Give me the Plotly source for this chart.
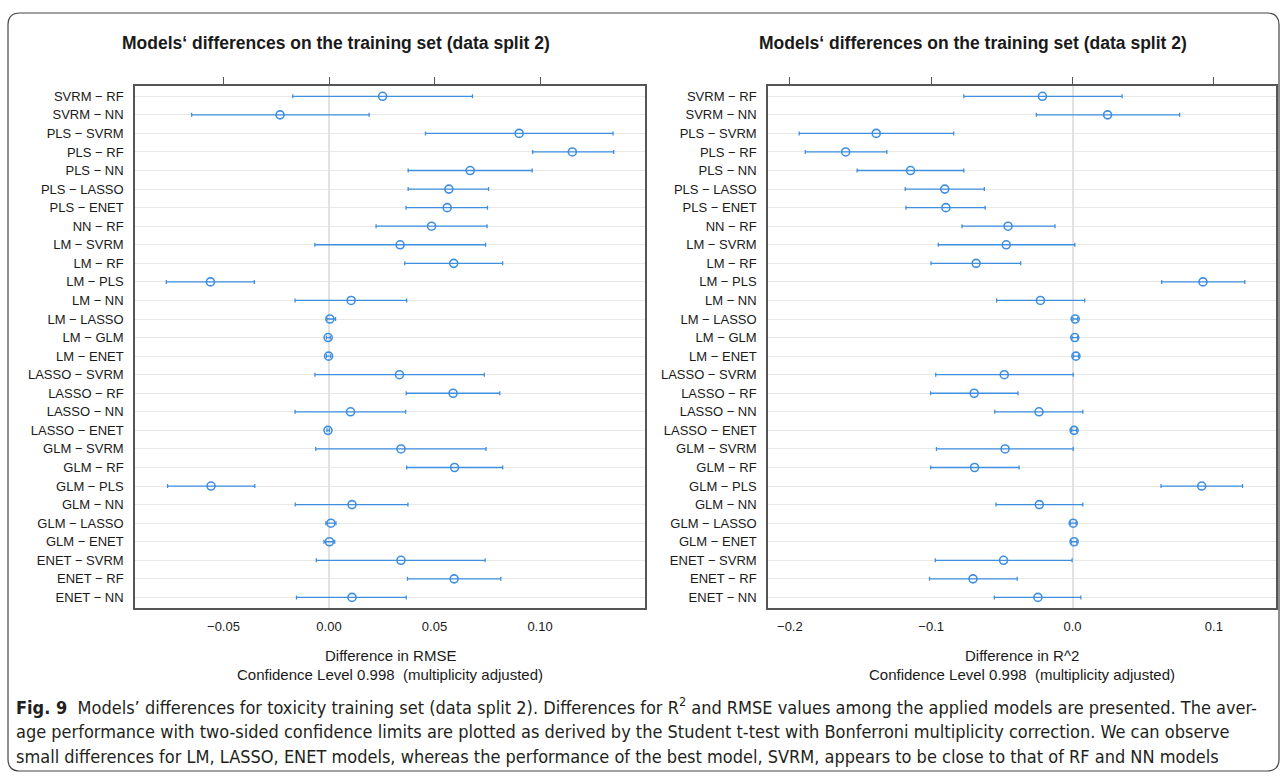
import numpy as np
import plotly.graph_objects as go

# ---------------- data ----------------
labels = ["SVRM − RF", "SVRM − NN", "PLS − SVRM", "PLS − RF", "PLS − NN", "PLS − LASSO",
          "PLS − ENET", "NN − RF", "LM − SVRM", "LM − RF", "LM − PLS", "LM − NN",
          "LM − LASSO", "LM − GLM", "LM − ENET", "LASSO − SVRM", "LASSO − RF", "LASSO − NN",
          "LASSO − ENET", "GLM − SVRM", "GLM − RF", "GLM − PLS", "GLM − NN", "GLM − LASSO",
          "GLM − ENET", "ENET − SVRM", "ENET − RF", "ENET − NN"]

rmse_est = [0.0254, -0.0232, 0.0901, 0.1153, 0.0669, 0.0568, 0.0560, 0.0486, 0.0337, 0.0591,
            -0.0562, 0.0105, 0.0004, -0.0004, -0.0002, 0.0334, 0.0588, 0.0102, -0.0005, 0.0341,
            0.0595, -0.0559, 0.0109, 0.0009, 0.0002, 0.0341, 0.0593, 0.0109]
rmse_lo = [-0.0172, -0.0651, 0.0457, 0.0965, 0.0375, 0.0375, 0.0365, 0.0223, -0.0067, 0.0359,
           -0.0771, -0.0161, -0.0010, -0.0012, -0.0012, -0.0067, 0.0366, -0.0161, -0.0010, -0.0063,
           0.0368, -0.0765, -0.0160, -0.0015, -0.0024, -0.0060, 0.0372, -0.0154]
rmse_hi = [0.0680, 0.0190, 0.1346, 0.1349, 0.0963, 0.0756, 0.0751, 0.0749, 0.0742, 0.0823,
           -0.0354, 0.0368, 0.0031, 0.0006, 0.0008, 0.0736, 0.0809, 0.0363, 0.0002, 0.0744,
           0.0823, -0.0352, 0.0374, 0.0033, 0.0027, 0.0740, 0.0814, 0.0366]

r2_est = [-0.0213, 0.0248, -0.1389, -0.1605, -0.1146, -0.0904, -0.0896, -0.0456, -0.0469, -0.0682,
          0.0923, -0.0227, 0.0019, 0.0016, 0.0024, -0.0483, -0.0696, -0.0237, 0.0011, -0.0477,
          -0.0693, 0.0914, -0.0235, 0.0005, 0.0011, -0.0488, -0.0704, -0.0245]
r2_lo = [-0.0769, -0.0256, -0.1934, -0.1891, -0.1524, -0.1184, -0.1179, -0.0782, -0.0950, -0.1001,
         0.0631, -0.0537, 0.0002, -0.0003, 0.0007, -0.0968, -0.1004, -0.0550, -0.0006, -0.0963,
         -0.1004, 0.0626, -0.0542, -0.0014, -0.0009, -0.0971, -0.1012, -0.0553]
r2_hi = [0.0351, 0.0758, -0.0841, -0.1314, -0.0769, -0.0624, -0.0618, -0.0124, 0.0016, -0.0367,
         0.1219, 0.0086, 0.0036, 0.0035, 0.0043, 0.0005, -0.0386, 0.0073, 0.0028, 0.0005,
         -0.0378, 0.1203, 0.0073, 0.0025, 0.0030, -0.0003, -0.0391, 0.0059]

rmse_ticks = [-0.05, 0.00, 0.05, 0.10]
rmse_ticktext = ["−0.05", "0.00", "0.05", "0.10"]
r2_ticks = [-0.2, -0.1, 0.0, 0.1]
r2_ticktext = ["−0.2", "−0.1", "0.0", "0.1"]

title_text = "Models‘ differences on the training set (data split 2)"
xlab_rmse = "Difference in RMSE"
xlab_r2 = "Difference in R^2"
conf_text = "Confidence Level 0.998  (multiplicity adjusted)"
caption_lines = [
    "<b>Fig. 9</b>  Models’ differences for toxicity training set (data split 2). Differences for R<sup>2</sup> and RMSE values among the applied models are presented. The aver-",
    "age performance with two-sided confidence limits are plotted as derived by the Student t-test with Bonferroni multiplicity correction. We can observe",
    "small differences for LM, LASSO, ENET models, whereas the performance of the best model, SVRM, appears to be close to that of RF and NN models",
]

# ---------------- layout helpers ----------------
W, H = 1283, 778
def fx(p):
    return p / W
def fy(p):
    return 1 - p / H

BLUE = "#3f8fe0"
BOX = "#555555"
GRID = "#e8e8e8"
FONT = "Liberation Sans, Arial, sans-serif"
TXT = "#1a1a1a"

def padded(lo, hi, pad=0.07):
    a, b = min(lo), max(hi)
    r = b - a
    return [a - pad * r, b + pad * r]

panels = [
    dict(est=rmse_est, lo=rmse_lo, hi=rmse_hi, ticks=rmse_ticks, tt=rmse_ticktext,
         x0=135, x1=645, xa="x", ya="y", xt="x3", xlab=xlab_rmse, tcenter=336),
    dict(est=r2_est, lo=r2_lo, hi=r2_hi, ticks=r2_ticks, tt=r2_ticktext,
         x0=768, x1=1276, xa="x2", ya="y2", xt="x4", xlab=xlab_r2, tcenter=973),
]

Y_TOP, Y_BOT = 85.7, 608
n = len(labels)
ypad = 0.57

fig = go.Figure()
layout = dict(width=W, height=H, autosize=False, margin=dict(l=0, r=0, t=0, b=0),
              paper_bgcolor="white", plot_bgcolor="white", showlegend=False,
              font=dict(family=FONT, color=TXT, size=13))
annotations = []

for p in panels:
    est = np.array(p["est"]); lo = np.array(p["lo"]); hi = np.array(p["hi"])
    rng = padded(p["lo"], p["hi"])
    fig.add_trace(go.Scatter(
        x=est, y=labels, mode="markers", xaxis=p["xa"], yaxis=p["ya"],
        marker=dict(symbol="circle-open", size=8, color=BLUE, line=dict(width=1.6, color=BLUE)),
        error_x=dict(type="data", symmetric=False, array=hi - est, arrayminus=est - lo,
                     color=BLUE, thickness=1.3, width=2),
        hoverinfo="x+y"))
    # invisible trace that activates the top tick axis
    fig.add_trace(go.Scatter(x=rng, y=[labels[0], labels[0]], xaxis=p["xt"], yaxis=p["ya"],
                             mode="markers", marker=dict(opacity=0), hoverinfo="skip"))
    xk = "xaxis" if p["xa"] == "x" else "xaxis" + p["xa"][1:]
    yk = "yaxis" if p["ya"] == "y" else "yaxis" + p["ya"][1:]
    tk = "xaxis" + p["xt"][1:]
    dom = [fx(p["x0"]), fx(p["x1"])]
    layout[xk] = dict(domain=dom, range=rng, anchor=p["ya"], tickvals=p["ticks"], ticktext=p["tt"],
                      ticks="", showgrid=False, zeroline=True, zerolinecolor="#e2e2e2",
                      zerolinewidth=1.5, showline=True, mirror=True, linecolor=BOX, linewidth=1.5,
                      tickfont=dict(size=13, color=TXT), ticklabelstandoff=6)
    layout[tk] = dict(overlaying=p["xa"], side="top", anchor=p["ya"], range=rng,
                      tickvals=p["ticks"], ticks="outside", ticklen=8, tickwidth=1.2,
                      tickcolor=BOX, showticklabels=False, showgrid=False, zeroline=False,
                      showline=False)
    layout[yk] = dict(domain=[fy(Y_BOT), fy(Y_TOP)], type="category",
                      categoryorder="array", categoryarray=labels,
                      range=[n - 1 + ypad, -ypad], anchor=p["xa"], ticks="",
                      showgrid=True, gridcolor=GRID, gridwidth=1, showline=True, mirror=True,
                      linecolor=BOX, linewidth=1.5, tickfont=dict(size=13, color=TXT),
                      ticklabelstandoff=7)
    cx = fx((p["x0"] + p["x1"]) / 2)
    annotations.append(dict(text="<b>" + title_text + "</b>", x=fx(p["tcenter"]), y=fy(43),
                            xref="paper", yref="paper", showarrow=False, xanchor="center",
                            yanchor="middle", font=dict(size=17.5, color=TXT)))
    annotations.append(dict(text=p["xlab"], x=cx, y=fy(655), xref="paper", yref="paper",
                            showarrow=False, xanchor="center", yanchor="middle",
                            font=dict(size=15, color=TXT)))
    annotations.append(dict(text=conf_text, x=cx, y=fy(674), xref="paper", yref="paper",
                            showarrow=False, xanchor="center", yanchor="middle",
                            font=dict(size=15, color=TXT)))

for i, line in enumerate(caption_lines):
    annotations.append(dict(text=line, x=fx(14), y=fy(706 + 25 * i), xref="paper", yref="paper",
                            showarrow=False, xanchor="left", yanchor="middle",
                            font=dict(size=18, color="#231f20",
                                      family="Liberation Sans Narrow, Arial Narrow, DejaVu Sans Condensed, sans-serif")))

layout["annotations"] = annotations

# rounded outer frame
L, T, R, B, r = 8, 13, 1279, 771, 12
path = (f"M {fx(L + r)},{fy(T)} L {fx(R - r)},{fy(T)} Q {fx(R)},{fy(T)} {fx(R)},{fy(T + r)} "
        f"L {fx(R)},{fy(B - r)} Q {fx(R)},{fy(B)} {fx(R - r)},{fy(B)} "
        f"L {fx(L + r)},{fy(B)} Q {fx(L)},{fy(B)} {fx(L)},{fy(B - r)} "
        f"L {fx(L)},{fy(T + r)} Q {fx(L)},{fy(T)} {fx(L + r)},{fy(T)} Z")
layout["shapes"] = [dict(type="path", path=path, xref="paper", yref="paper",
                         line=dict(color="#444444", width=1.2), layer="above")]

fig.update_layout(**layout)
fig.write_html("out.html", config={"displayModeBar": False},
               post_script="document.body.style.margin='0';document.body.style.overflow='hidden';")
